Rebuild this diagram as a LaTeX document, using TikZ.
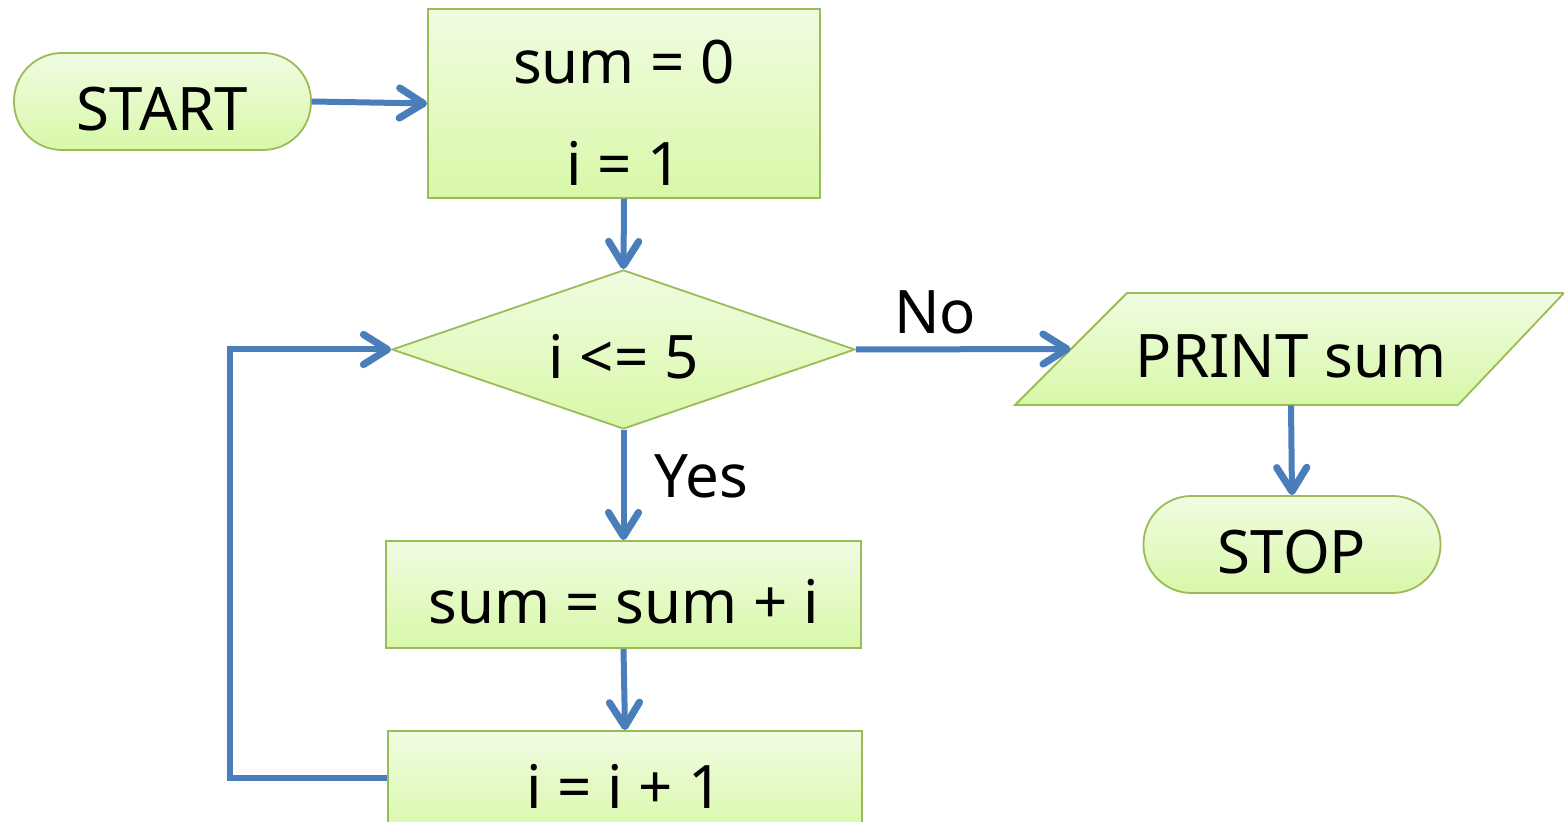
\documentclass[tikz,border=0pt]{standalone}
\usepackage{fontspec}
\setmainfont{Noto Sans}
\usetikzlibrary{shapes.geometric,arrows.meta}
\definecolor{gtop}{RGB}{240,252,226}
\definecolor{gbot}{RGB}{216,248,168}
\definecolor{gedge}{RGB}{155,187,89}
\definecolor{flow}{RGB}{74,126,187}
\begin{document}
\begin{tikzpicture}[x=0.5pt,y=-0.5pt,
 txt/.style={inner sep=0pt,font=\fontsize{30}{36}\selectfont,text height=29pt,text depth=0pt},
 shapebase/.style={txt,draw=gedge,line width=0.9pt,top color=gtop,bottom color=gbot},
 term/.style={shapebase,rectangle,rounded corners=24pt,minimum width=148.5pt,minimum height=48.5pt},
 proc/.style={shapebase,rectangle},
 decision/.style={shapebase,diamond,aspect=2.91,minimum width=231.5pt,minimum height=79.5pt},
 flowline/.style={draw=flow,line width=3pt,-{Straight Barb[length=12pt,width=15pt,line width=3.6pt,line cap=round,line join=round]}},
 lab/.style={font=\fontsize{30}{36}\selectfont,inner sep=0pt}]
\useasboundingbox (0,0) rectangle (1564,822);
% shapes
\node[proc,minimum width=196pt,minimum height=94.5pt] (box1) at (624,103.5) {};
\node[lab] (b1a) at (624,62) {sum = 0};
\node[lab] (b1b) at (624,163) {i = 1};
\node[term] (start) at (162.5,101.5) {START};
\node[decision] (dia) at (623.5,349.5) {i <= 5};
\path[draw=gedge,line width=0.9pt,top color=gtop,bottom color=gbot] (1127,293) -- (1564,293) -- (1458,405) -- (1015,405) -- cycle;
\node[txt,rectangle,minimum width=220pt,minimum height=56pt] (print) at (1291,349) {PRINT sum};
\node[term] (stop) at (1292,544.5) {STOP};
\node[proc,minimum width=237.5pt,minimum height=53.5pt] (box2) at (623.5,594.5) {sum = sum + i};
\node[proc,minimum width=237pt,minimum height=53.5pt] (box3) at (625,784.5) {};
\node[lab] (b3t) at (625,786) {i = i + 1};
\coordinate (lp) at (230,778);
% connectors
\draw[flowline] (start.east) -- (box1.west);
\draw[flowline] (box1.south) -- (dia.north);
\draw[flowline] (dia.east) -- (print.west);
\draw[flowline] (print.south) -- (stop.north);
\draw[flowline] (dia.south) -- (box2.north);
\draw[flowline] (box2.south) -- (box3.north);
\draw[flowline] (box3.west |- lp) -- (lp) |- (dia.west);
% labels
\node[lab] (no) at (935,312) {No};
\node[lab] (yes) at (701,476) {Yes};
\end{tikzpicture}
\end{document}
